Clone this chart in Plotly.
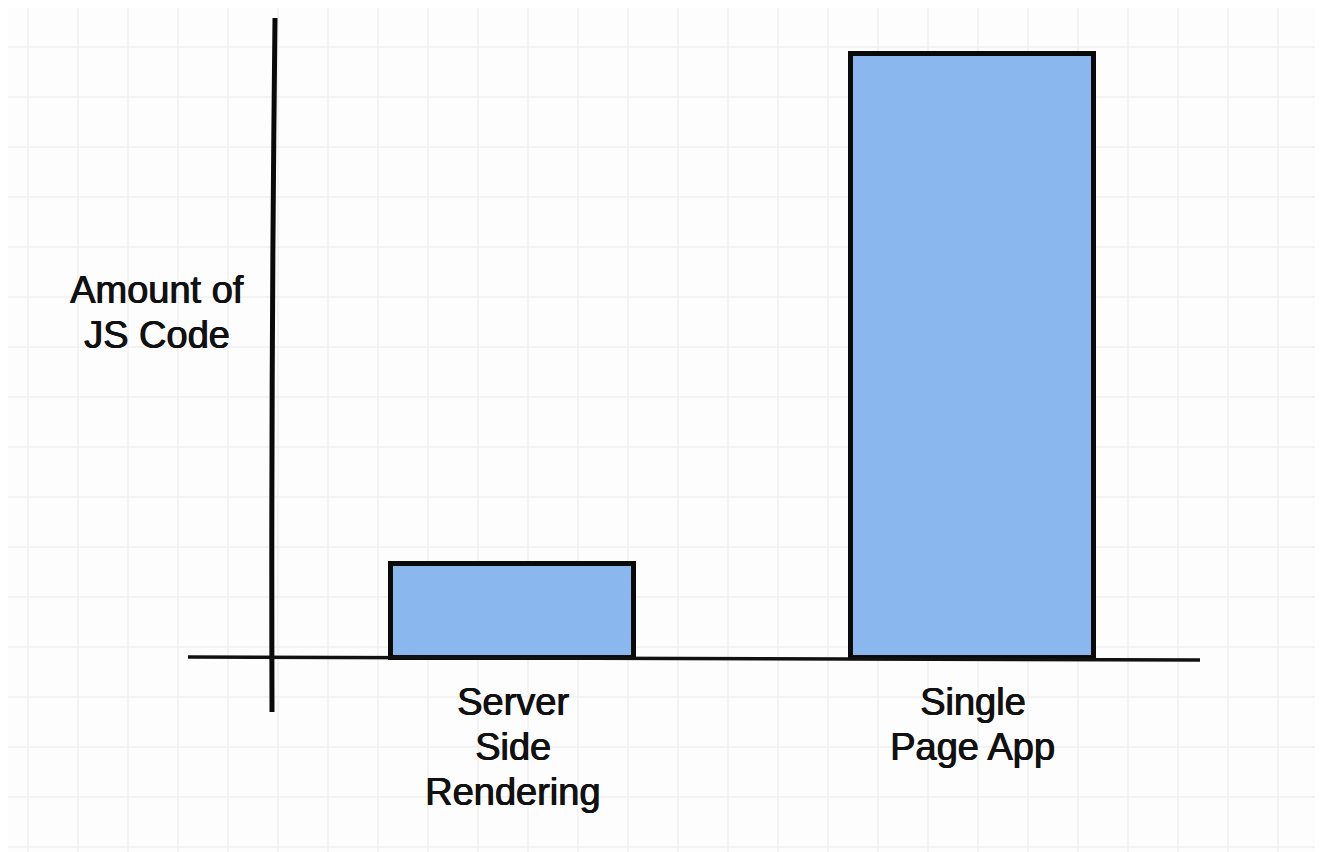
import plotly.graph_objects as go

# ---- data ----
categories = ["Server<br>Side<br>Rendering", "Single<br>Page App"]
js_amount = [1.5, 9.6]
y_title = "Amount of<br>JS Code"

# window size and default page body margin (8px)
WIN_W, WIN_H = 1323, 852
OFF = 8
W, H = WIN_W - OFF, WIN_H - OFF


def px(x):
    return (x - OFF) / W


def py(y):
    return 1 - (y - OFF) / H


fig = go.Figure()
fig.add_trace(go.Bar(
    x=[0, 1], y=js_amount, width=0.53,
    marker=dict(color="#8ab8ee", line=dict(color="#0a0a0a", width=5)),
    hoverinfo="skip", showlegend=False,
))

shapes = []
# grid paper
for gx in range(28, WIN_W, 50):
    shapes.append(dict(type="line", xref="paper", yref="paper",
                       x0=px(gx), x1=px(gx), y0=0, y1=1,
                       line=dict(color="#efefef", width=1.5), layer="below"))
for gy in range(47, WIN_H, 50):
    shapes.append(dict(type="line", xref="paper", yref="paper",
                       x0=0, x1=1, y0=py(gy), y1=py(gy),
                       line=dict(color="#efefef", width=1.5), layer="below"))

# hand-drawn axes
shapes.append(dict(type="path", xref="paper", yref="paper",
                   path=f"M {px(275)},{py(18)} Q {px(271)},{py(370)} {px(272)},{py(712)}",
                   line=dict(color="#0a0a0a", width=5), layer="above"))
shapes.append(dict(type="path", xref="paper", yref="paper",
                   path=f"M {px(188)},{py(657)} Q {px(700)},{py(659)} {px(1200)},{py(660)}",
                   line=dict(color="#111111", width=3.5), layer="above"))

font = dict(family="Liberation Sans, Arial, sans-serif", size=38, color="#111111",
            shadow="0.7px 0 0 #111111, -0.3px 0 0 #111111")
LINE = 45
annotations = []
for j, line in enumerate(y_title.split("<br>")):
    annotations.append(dict(text=line, xref="paper", yref="paper", x=px(157), y=py(290 + j * LINE),
                            showarrow=False, font=font, xanchor="center", yanchor="middle"))
for i, cat in enumerate(categories):
    for j, line in enumerate(cat.split("<br>")):
        annotations.append(dict(text=line, xref="x", yref="paper", x=i, y=py(702 + j * LINE),
                                showarrow=False, font=font, xanchor="center", yanchor="middle"))

ppx = 460.0
ppy = 62.9
x0_px = 512.5 - OFF
y0_px = 658 - OFF
fig.update_layout(
    width=W, height=H, autosize=False,
    margin=dict(l=0, r=0, t=0, b=0),
    paper_bgcolor="#fdfdfd", plot_bgcolor="rgba(0,0,0,0)",
    xaxis=dict(range=[-x0_px / ppx, (W - x0_px) / ppx], visible=False, fixedrange=True),
    yaxis=dict(range=[-(H - y0_px) / ppy, y0_px / ppy], visible=False, fixedrange=True),
    shapes=shapes, annotations=annotations,
    bargap=0,
)

fig.write_html("out.html")
